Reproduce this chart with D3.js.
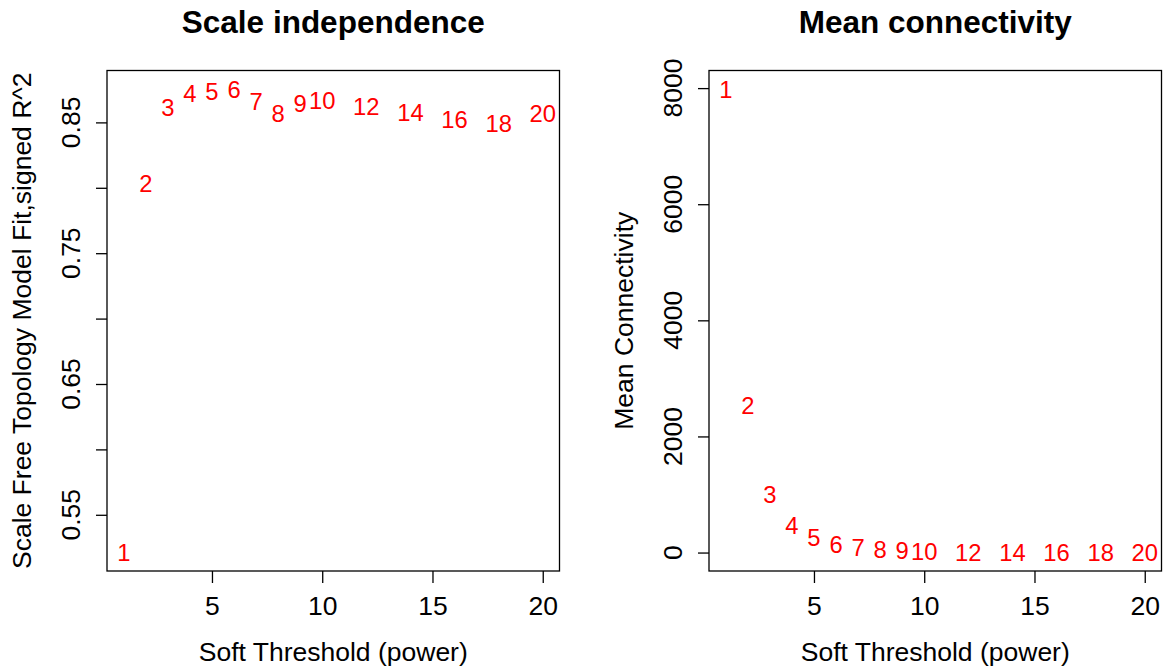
<!DOCTYPE html>
<html>
<head>
<meta charset="utf-8">
<script src="https://cdn.jsdelivr.net/npm/d3@7"></script>
<style>
  body { margin: 0; background: #fff; }
  text { font-family: "Liberation Sans", Arial, Helvetica, sans-serif; }
</style>
</head>
<body>
<svg id="chart" width="1163" height="672"></svg>
<script>

// soft threshold powers tested
var powers = [1, 2, 3, 4, 5, 6, 7, 8, 9, 10, 12, 14, 16, 18, 20];

// signed R^2 of the scale free fit
var sftR2 = [0.5212, 0.803, 0.8615, 0.8722, 0.8734, 0.8755, 0.8663, 0.8569, 0.8645, 0.8667, 0.8619, 0.8573, 0.8525, 0.8492, 0.8569];

// mean connectivity
var meanK = [7984, 2527, 994, 465, 258, 145, 86, 47, 29, 17, 8, 5, 3, 2, 1.5];

var xTicks = [5, 10, 15, 20];
var r2Ticks = [0.55, 0.60, 0.65, 0.70, 0.75, 0.80, 0.85];
var r2Labels = [0.55, 0.65, 0.75, 0.85];
var kTicks = [0, 2000, 4000, 6000, 8000];

var svg = d3.select("#chart");

// R style axis range: data extent plus 4% on each side
function rRange(vals) {
    var ext = d3.extent(vals);
    var pad = (ext[1] - ext[0]) * 0.04;
    return [ext[0] - pad, ext[1] + pad];
}

function drawPanel(opt) {
    var left = opt.left, top = 70.5, w = 452.5, h = 500.5;

    var x = d3.scaleLinear().domain(rRange(powers)).range([left, left + w]);
    var y = d3.scaleLinear().domain(rRange(opt.values)).range([top + h, top]);

    var g = svg.append("g");

    // title
    g.append("text")
        .attr("x", left + w / 2)
        .attr("y", 33)
        .attr("text-anchor", "middle")
        .attr("font-size", "31.5px")
        .attr("font-weight", "bold")
        .text(opt.title);

    // bottom axis
    var xAxis = g.append("g")
        .attr("transform", "translate(0," + (top + h) + ")")
        .call(d3.axisBottom(x).tickValues(xTicks).tickSize(12).tickPadding(10).tickFormat(d3.format("d")));
    xAxis.select(".domain").remove();
    xAxis.selectAll("line").attr("stroke", "#000").attr("stroke-width", 1.3);
    xAxis.selectAll("text")
        .attr("font-size", "26.5px")
        .attr("fill", "#000")
        .attr("dy", 0)
        .attr("y", 44);

    // left axis, labels rotated like R's las = 0
    var yAxis = g.append("g")
        .attr("transform", "translate(" + left + ",0)")
        .call(d3.axisLeft(y).tickValues(opt.ticks).tickSize(11).tickFormat(""));
    yAxis.select(".domain").remove();
    yAxis.selectAll("line").attr("stroke", "#000").attr("stroke-width", 1.3);

    g.selectAll(".ylab")
        .data(opt.labels)
        .enter()
        .append("text")
        .attr("class", "ylab")
        .attr("transform", d => "translate(" + (left - 27) + "," + y(d) + ") rotate(-90)")
        .attr("text-anchor", "middle")
        .attr("font-size", "26.5px")
        .text(opt.fmt);

    // axis titles
    g.append("text")
        .attr("x", left + w / 2)
        .attr("y", 661)
        .attr("text-anchor", "middle")
        .attr("font-size", "26.5px")
        .text("Soft Threshold (power)");

    g.append("text")
        .attr("transform", "translate(" + (left - 76) + "," + (top + h / 2) + ") rotate(-90)")
        .attr("text-anchor", "middle")
        .attr("font-size", "26.5px")
        .text(opt.ylabel);

    // plot frame
    g.append("rect")
        .attr("x", left)
        .attr("y", top)
        .attr("width", w)
        .attr("height", h)
        .attr("fill", "none")
        .attr("stroke", "#000")
        .attr("stroke-width", 1.3);

    // points drawn as their power labels
    g.selectAll(".pt")
        .data(powers)
        .enter()
        .append("text")
        .attr("class", "pt")
        .attr("x", d => x(d))
        .attr("y", (d, i) => y(opt.values[i]))
        .attr("dy", "0.36em")
        .attr("text-anchor", "middle")
        .attr("font-size", "23.8px")
        .attr("fill", "#ff0000")
        .text(d => d);
}

drawPanel({
    left: 107,
    title: "Scale independence",
    values: sftR2,
    ticks: r2Ticks,
    labels: r2Labels,
    fmt: d3.format(".2f"),
    ylabel: "Scale Free Topology Model Fit,signed R^2"
});

drawPanel({
    left: 709,
    title: "Mean connectivity",
    values: meanK,
    ticks: kTicks,
    labels: kTicks,
    fmt: d3.format("d"),
    ylabel: "Mean Connectivity"
});

</script>
</body>
</html>
